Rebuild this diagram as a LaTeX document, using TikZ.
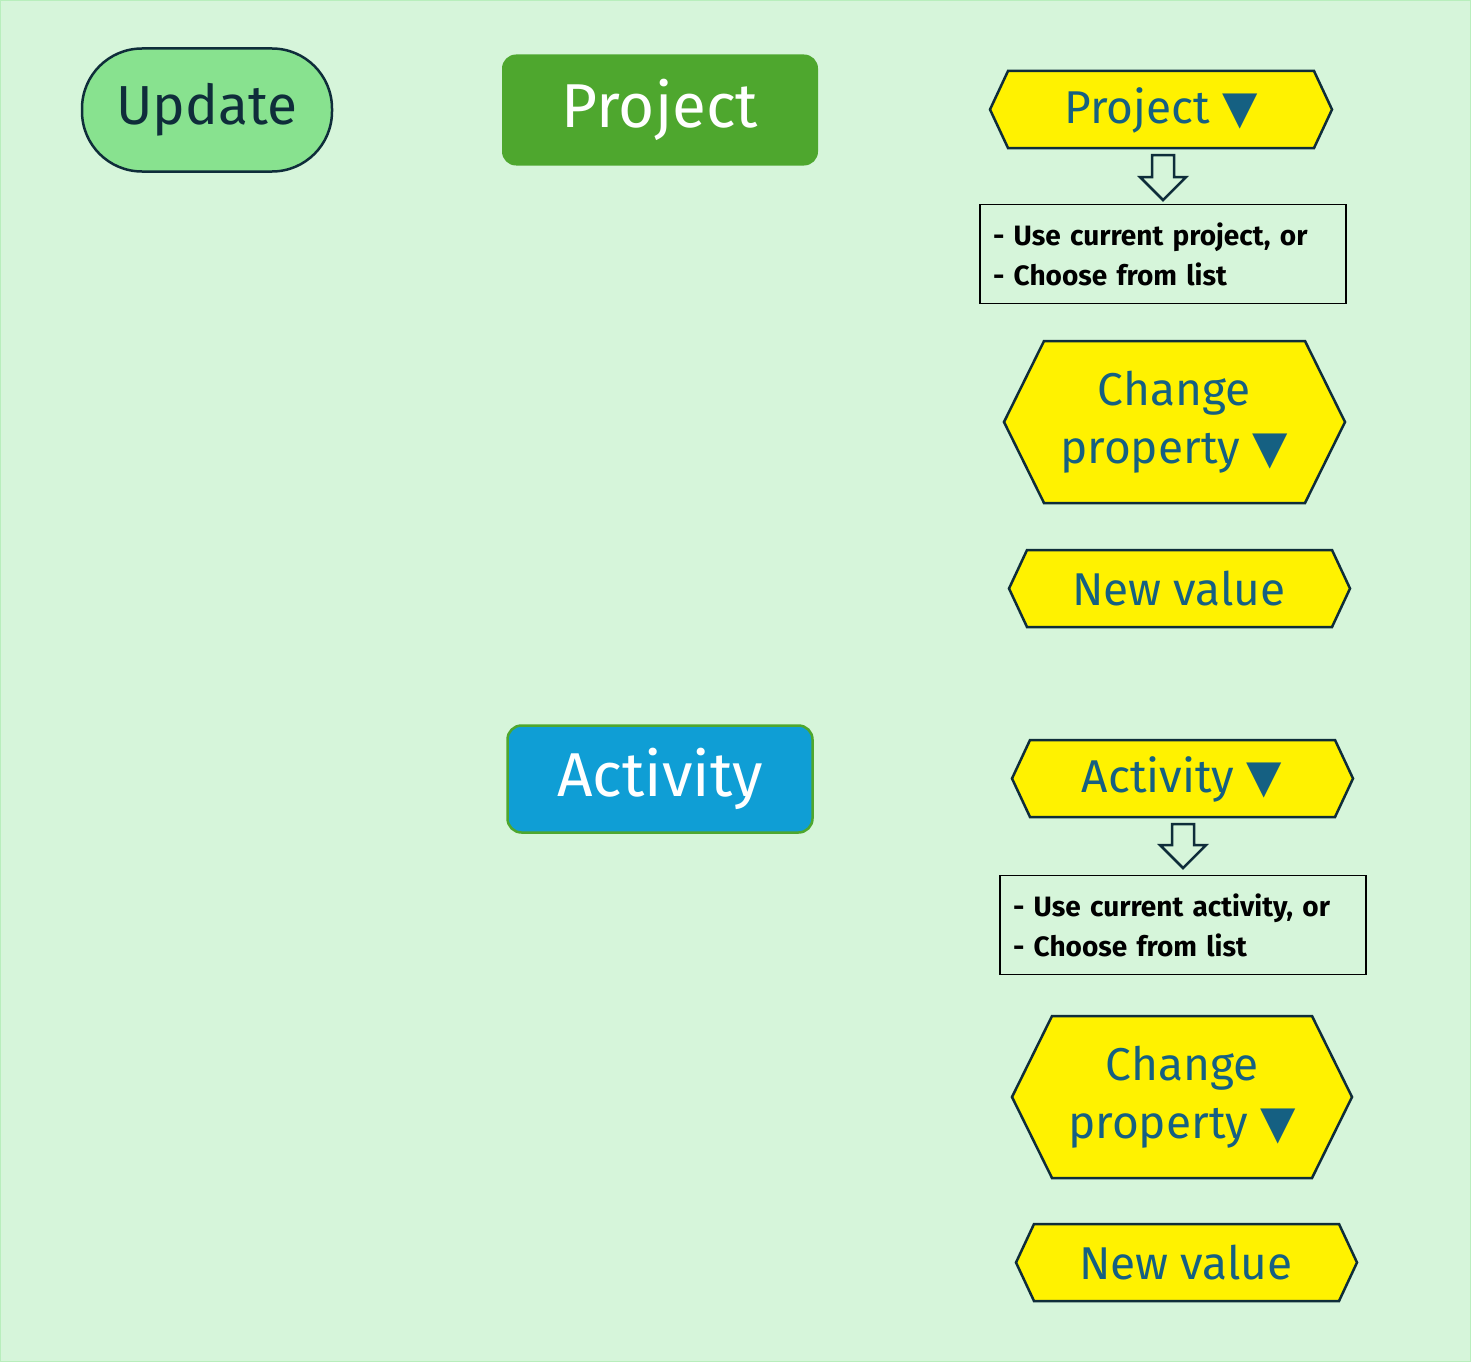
\documentclass[tikz,border=0pt]{standalone}
\usepackage{fontspec}
\setmainfont{Fira Sans}
\newfontfamily\symf{DejaVu Sans}
\definecolor{bg}{HTML}{D6F5DA}
\definecolor{ink}{HTML}{0F2D3A}
\definecolor{hextxt}{HTML}{156082}
\definecolor{pgreen}{HTML}{4EA72E}
\definecolor{ablue}{HTML}{0F9ED5}
\definecolor{ugreen}{HTML}{88E28F}
\newcommand{\tri}{{\symf\char"25BC}}
\newcommand{\hexa}[5]{\draw[hexline] (#1,#2+#4/2-#2/2) -- (#1+#5,#2) -- (#3-#5,#2) -- (#3,#2+#4/2-#2/2) -- (#3-#5,#4) -- (#1+#5,#4) -- cycle;}
\newcommand{\harrow}[3]{\draw[harr] (#1-11,#2) -- (#1+11,#2) -- (#1+11,#3-23) -- (#1+23,#3-23) -- (#1,#3) -- (#1-23,#3-23) -- (#1-11,#3-23) -- cycle;}
\begin{document}
\begin{tikzpicture}[x=1pt,y=-1pt,
 hexline/.style={draw=ink,line width=2.5pt,fill=yellow,line join=miter},
 harr/.style={draw=ink,line width=2.5pt,fill=bg,line join=miter},
 hext/.style={text=hextxt,font=\fontsize{46}{58}\selectfont,align=center},
 note/.style={draw=black,line width=1.5pt,fill=bg,minimum width=366pt,minimum height=99pt,text width=340pt,align=left,font=\bfseries\fontsize{28}{40}\selectfont,inner sep=0pt},
 big/.style={text=white,font=\fontsize{62}{70}\selectfont,minimum width=312pt,minimum height=110pt,rounded corners=14pt}]
\fill[bg,draw=ugreen!60,line width=1pt] (0.5,0.5) rectangle (1470.5,1361.5);
\node[draw=ink,line width=2.5pt,fill=ugreen,rounded corners=60pt,minimum width=250pt,minimum height=123pt,text=ink,font=\fontsize{55}{60}\selectfont] (upd) at (207,110) {Update};
\node[big,fill=pgreen,minimum width=316pt,minimum height=111pt] (proj) at (660,110) {Project};
\node[big,fill=ablue,draw=pgreen,line width=2.5pt,minimum width=305pt,minimum height=107pt] (act) at (660,779) {Activity};
% project column
\hexa{990}{71}{1332}{148}{18}
\node[hext] (h1) at (1161,110) {Project \tri};
\harrow{1163}{155}{200}
\coordinate (a1) at (1163,178);
\node[note] (n1) at (1163,254) {- Use current project, or\\- Choose from list};
\hexa{1004}{341}{1345}{503}{40}
\node[hext] (h2) at (1174,422) {Change\\property \tri};
\hexa{1009}{550}{1350}{627}{18}
\node[hext] (h3) at (1179,589) {New value};
% activity column
\hexa{1012}{740}{1353}{817}{18}
\node[hext] (h4) at (1182,779) {Activity \tri};
\harrow{1183}{824}{868}
\coordinate (a2) at (1183,846);
\node[note] (n2) at (1183,925) {- Use current activity, or\\- Choose from list};
\hexa{1012}{1016}{1352}{1178}{40}
\node[hext] (h5) at (1182,1097) {Change\\property \tri};
\hexa{1016}{1224}{1357}{1301}{18}
\node[hext] (h6) at (1186,1263) {New value};
\end{tikzpicture}
\end{document}
